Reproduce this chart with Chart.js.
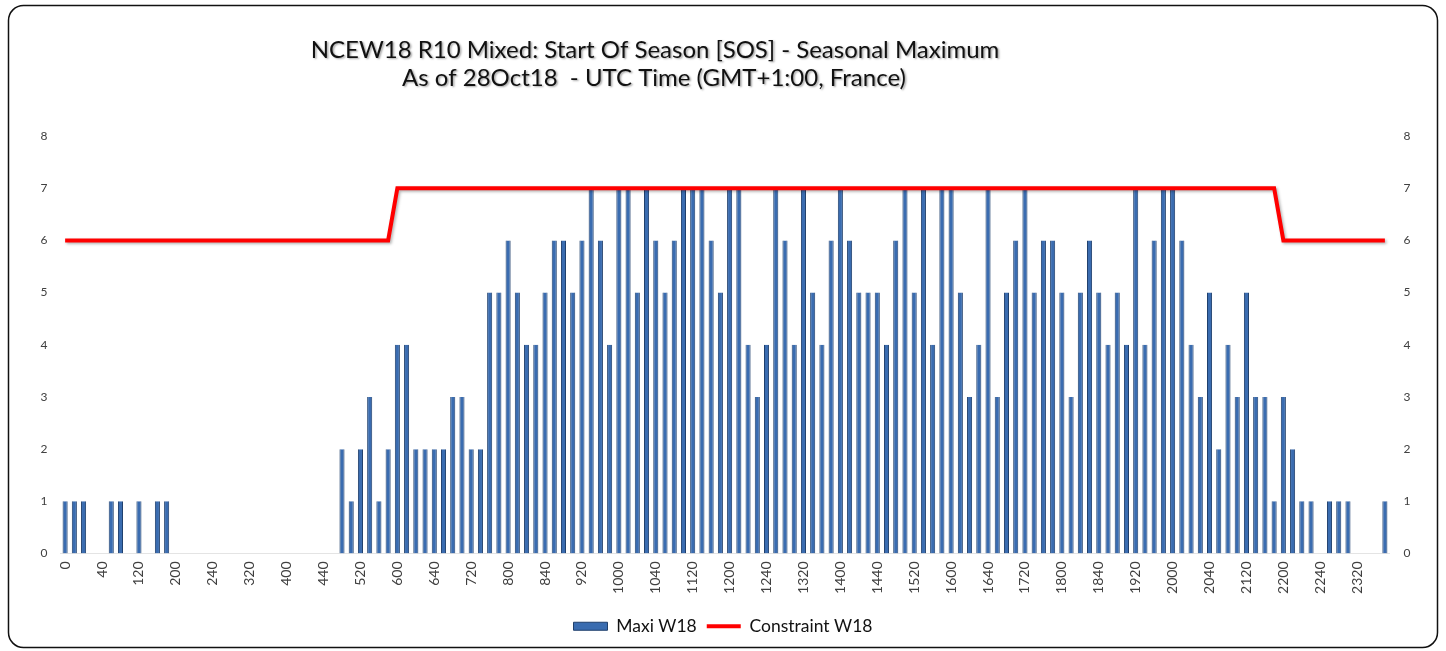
<!DOCTYPE html>
<html>
<head>
<meta charset="utf-8">
<title>NCEW18 R10 Mixed - Start Of Season</title>
<script src="https://cdn.jsdelivr.net/npm/chart.js@4.4.1/dist/chart.umd.min.js"></script>
<style>
  html, body { margin: 0; padding: 0; background: #fff; }
  #wrap { position: relative; width: 1446px; height: 651px; }
</style>
</head>
<body>
<div id="wrap"><canvas id="chart"></canvas></div>
<script>
const TITLE_LINES = [
  "NCEW18 R10 Mixed: Start Of Season [SOS] - Seasonal Maximum",
  "As of 28Oct18  - UTC Time (GMT+1:00, France)",
];

// 10-minute slots, HHMM without leading zeros
const SLOTS = [
  0, 10, 20, 30, 40, 50,
  100, 110, 120, 130, 140, 150,
  200, 210, 220, 230, 240, 250,
  300, 310, 320, 330, 340, 350,
  400, 410, 420, 430, 440, 450,
  500, 510, 520, 530, 540, 550,
  600, 610, 620, 630, 640, 650,
  700, 710, 720, 730, 740, 750,
  800, 810, 820, 830, 840, 850,
  900, 910, 920, 930, 940, 950,
  1000, 1010, 1020, 1030, 1040, 1050,
  1100, 1110, 1120, 1130, 1140, 1150,
  1200, 1210, 1220, 1230, 1240, 1250,
  1300, 1310, 1320, 1330, 1340, 1350,
  1400, 1410, 1420, 1430, 1440, 1450,
  1500, 1510, 1520, 1530, 1540, 1550,
  1600, 1610, 1620, 1630, 1640, 1650,
  1700, 1710, 1720, 1730, 1740, 1750,
  1800, 1810, 1820, 1830, 1840, 1850,
  1900, 1910, 1920, 1930, 1940, 1950,
  2000, 2010, 2020, 2030, 2040, 2050,
  2100, 2110, 2120, 2130, 2140, 2150,
  2200, 2210, 2220, 2230, 2240, 2250,
  2300, 2310, 2320, 2330, 2340, 2350,
];

const MAXI_W18 = [
  1, 1, 1, 0, 0, 1,
  1, 0, 1, 0, 1, 1,
  0, 0, 0, 0, 0, 0,
  0, 0, 0, 0, 0, 0,
  0, 0, 0, 0, 0, 0,
  2, 1, 2, 3, 1, 2,
  4, 4, 2, 2, 2, 2,
  3, 3, 2, 2, 5, 5,
  6, 5, 4, 4, 5, 6,
  6, 5, 6, 7, 6, 4,
  7, 7, 5, 7, 6, 5,
  6, 7, 7, 7, 6, 5,
  7, 7, 4, 3, 4, 7,
  6, 4, 7, 5, 4, 6,
  7, 6, 5, 5, 5, 4,
  6, 7, 5, 7, 4, 7,
  7, 5, 3, 4, 7, 3,
  5, 6, 7, 5, 6, 6,
  5, 3, 5, 6, 5, 4,
  5, 4, 7, 4, 6, 7,
  7, 6, 4, 3, 5, 2,
  4, 3, 5, 3, 3, 1,
  3, 2, 1, 1, 0, 1,
  1, 1, 0, 0, 0, 1,
];

const CONSTRAINT_W18 = [
  6, 6, 6, 6, 6, 6,
  6, 6, 6, 6, 6, 6,
  6, 6, 6, 6, 6, 6,
  6, 6, 6, 6, 6, 6,
  6, 6, 6, 6, 6, 6,
  6, 6, 6, 6, 6, 6,
  7, 7, 7, 7, 7, 7,
  7, 7, 7, 7, 7, 7,
  7, 7, 7, 7, 7, 7,
  7, 7, 7, 7, 7, 7,
  7, 7, 7, 7, 7, 7,
  7, 7, 7, 7, 7, 7,
  7, 7, 7, 7, 7, 7,
  7, 7, 7, 7, 7, 7,
  7, 7, 7, 7, 7, 7,
  7, 7, 7, 7, 7, 7,
  7, 7, 7, 7, 7, 7,
  7, 7, 7, 7, 7, 7,
  7, 7, 7, 7, 7, 7,
  7, 7, 7, 7, 7, 7,
  7, 7, 7, 7, 7, 7,
  7, 7, 7, 7, 7, 7,
  6, 6, 6, 6, 6, 6,
  6, 6, 6, 6, 6, 6,
];

const Y_MIN = 0;
const Y_MAX = 8;
const LABEL_EVERY = 4;

const barColor = "#3a6cb0";
const barEdge = "#1f3f6c";
const lineColor = "#ff0000";
const tickColor = "#404040";
const fontFamily = "Lato, 'Open Sans', sans-serif";

// rounded frame + title, drawn straight on the canvas
const frameAndTitle = {
  id: "frameAndTitle",
  beforeDraw(chart) {
    const ctx = chart.ctx;
    ctx.save();
    ctx.fillStyle = "#fff";
    ctx.fillRect(0, 0, chart.width, chart.height);
    const x = 8.5, y = 5.5, w = 1429, h = 642, r = 15;
    ctx.beginPath();
    ctx.moveTo(x + r, y);
    ctx.arcTo(x + w, y, x + w, y + h, r);
    ctx.arcTo(x + w, y + h, x, y + h, r);
    ctx.arcTo(x, y + h, x, y, r);
    ctx.arcTo(x, y, x + w, y, r);
    ctx.closePath();
    ctx.lineWidth = 1.5;
    ctx.strokeStyle = "#111";
    ctx.stroke();
    ctx.restore();
  },
  afterDraw(chart) {
    const ctx = chart.ctx;
    ctx.save();
    ctx.font = "24px " + fontFamily;
    ctx.fillStyle = "#111";
    ctx.textAlign = "center";
    ctx.textBaseline = "middle";
    ctx.shadowColor = "rgba(0,0,0,0.35)";
    ctx.shadowBlur = 2;
    ctx.shadowOffsetX = 1.5;
    ctx.shadowOffsetY = 1.5;
    ctx.fillText(TITLE_LINES[0], 655, 50, 692);
    ctx.fillText(TITLE_LINES[1], 654, 78, 510);
    ctx.restore();
  },
};

const lineShadow = {
  id: "lineShadow",
  beforeDatasetDraw(chart, args) {
    if (args.meta.type !== "line") return;
    const ctx = chart.ctx;
    ctx.save();
    ctx.shadowColor = "rgba(0,0,0,0.3)";
    ctx.shadowBlur = 3;
    ctx.shadowOffsetX = 1.5;
    ctx.shadowOffsetY = 1.5;
  },
  afterDatasetDraw(chart, args) {
    if (args.meta.type !== "line") return;
    chart.ctx.restore();
  },
};

const yTicks = {
  color: tickColor,
  font: { family: fontFamily, size: 12 },
  stepSize: 1,
  padding: 13,
};

new Chart(document.getElementById("chart"), {
  data: {
    labels: SLOTS,
    datasets: [
      {
        type: "bar",
        label: "Maxi W18",
        data: MAXI_W18,
        backgroundColor: barColor,
        borderColor: barEdge,
        borderWidth: { left: 1, right: 1, top: 0, bottom: 0 },
        barPercentage: 0.55,
        categoryPercentage: 1.0,
        yAxisID: "y",
        order: 1,
      },
      {
        type: "line",
        label: "Constraint W18",
        data: CONSTRAINT_W18,
        borderColor: lineColor,
        backgroundColor: lineColor,
        borderWidth: 4,
        pointRadius: 0,
        tension: 0,
        fill: false,
        yAxisID: "y",
        order: 0,
      },
    ],
  },
  options: {
    responsive: true,
    maintainAspectRatio: false,
    animation: false,
    layout: { padding: { top: 136, bottom: 6, left: 0, right: 0 } },
    plugins: {
      title: { display: false },
      tooltip: { enabled: false },
      legend: {
        position: "bottom",
        labels: {
          usePointStyle: true,
          pointStyleWidth: 34,
          boxHeight: 8,
          padding: 10,
          color: "#111",
          font: { family: fontFamily, size: 17.5 },
          sort: (a, b) => a.datasetIndex - b.datasetIndex,
          generateLabels(chart) {
            const items = Chart.defaults.plugins.legend.labels.generateLabels(chart);
            for (const it of items) {
              const ds = chart.data.datasets[it.datasetIndex];
              if (ds.type === "line") {
                it.pointStyle = "line";
                it.strokeStyle = lineColor;
                it.lineWidth = 4;
              } else {
                it.pointStyle = "rect";
                it.fillStyle = barColor;
                it.strokeStyle = barEdge;
                it.lineWidth = 1;
              }
            }
            return items;
          },
        },
      },
    },
    scales: {
      x: {
        grid: { display: false, drawTicks: false },
        border: { display: true, color: "#e4e4e4" },
        ticks: {
          autoSkip: false,
          minRotation: 90,
          maxRotation: 90,
          padding: 8,
          color: tickColor,
          font: { family: fontFamily, size: 14 },
          callback: (val, idx) => (idx % LABEL_EVERY === 0 ? String(SLOTS[idx]) : ""),
        },
        afterFit(scale) {
          scale.height = 54;
        },
      },
      y: {
        position: "left",
        min: Y_MIN,
        max: Y_MAX,
        grid: { display: false, drawTicks: false },
        border: { display: false },
        ticks: yTicks,
        afterFit(scale) {
          scale.width = 60.5;
        },
      },
      y2: {
        position: "right",
        min: Y_MIN,
        max: Y_MAX,
        grid: { display: false, drawTicks: false },
        border: { display: false },
        ticks: { ...yTicks, padding: 14 },
        afterFit(scale) {
          scale.width = 56.5;
        },
      },
    },
  },
  plugins: [frameAndTitle, lineShadow],
});
</script>
</body>
</html>
